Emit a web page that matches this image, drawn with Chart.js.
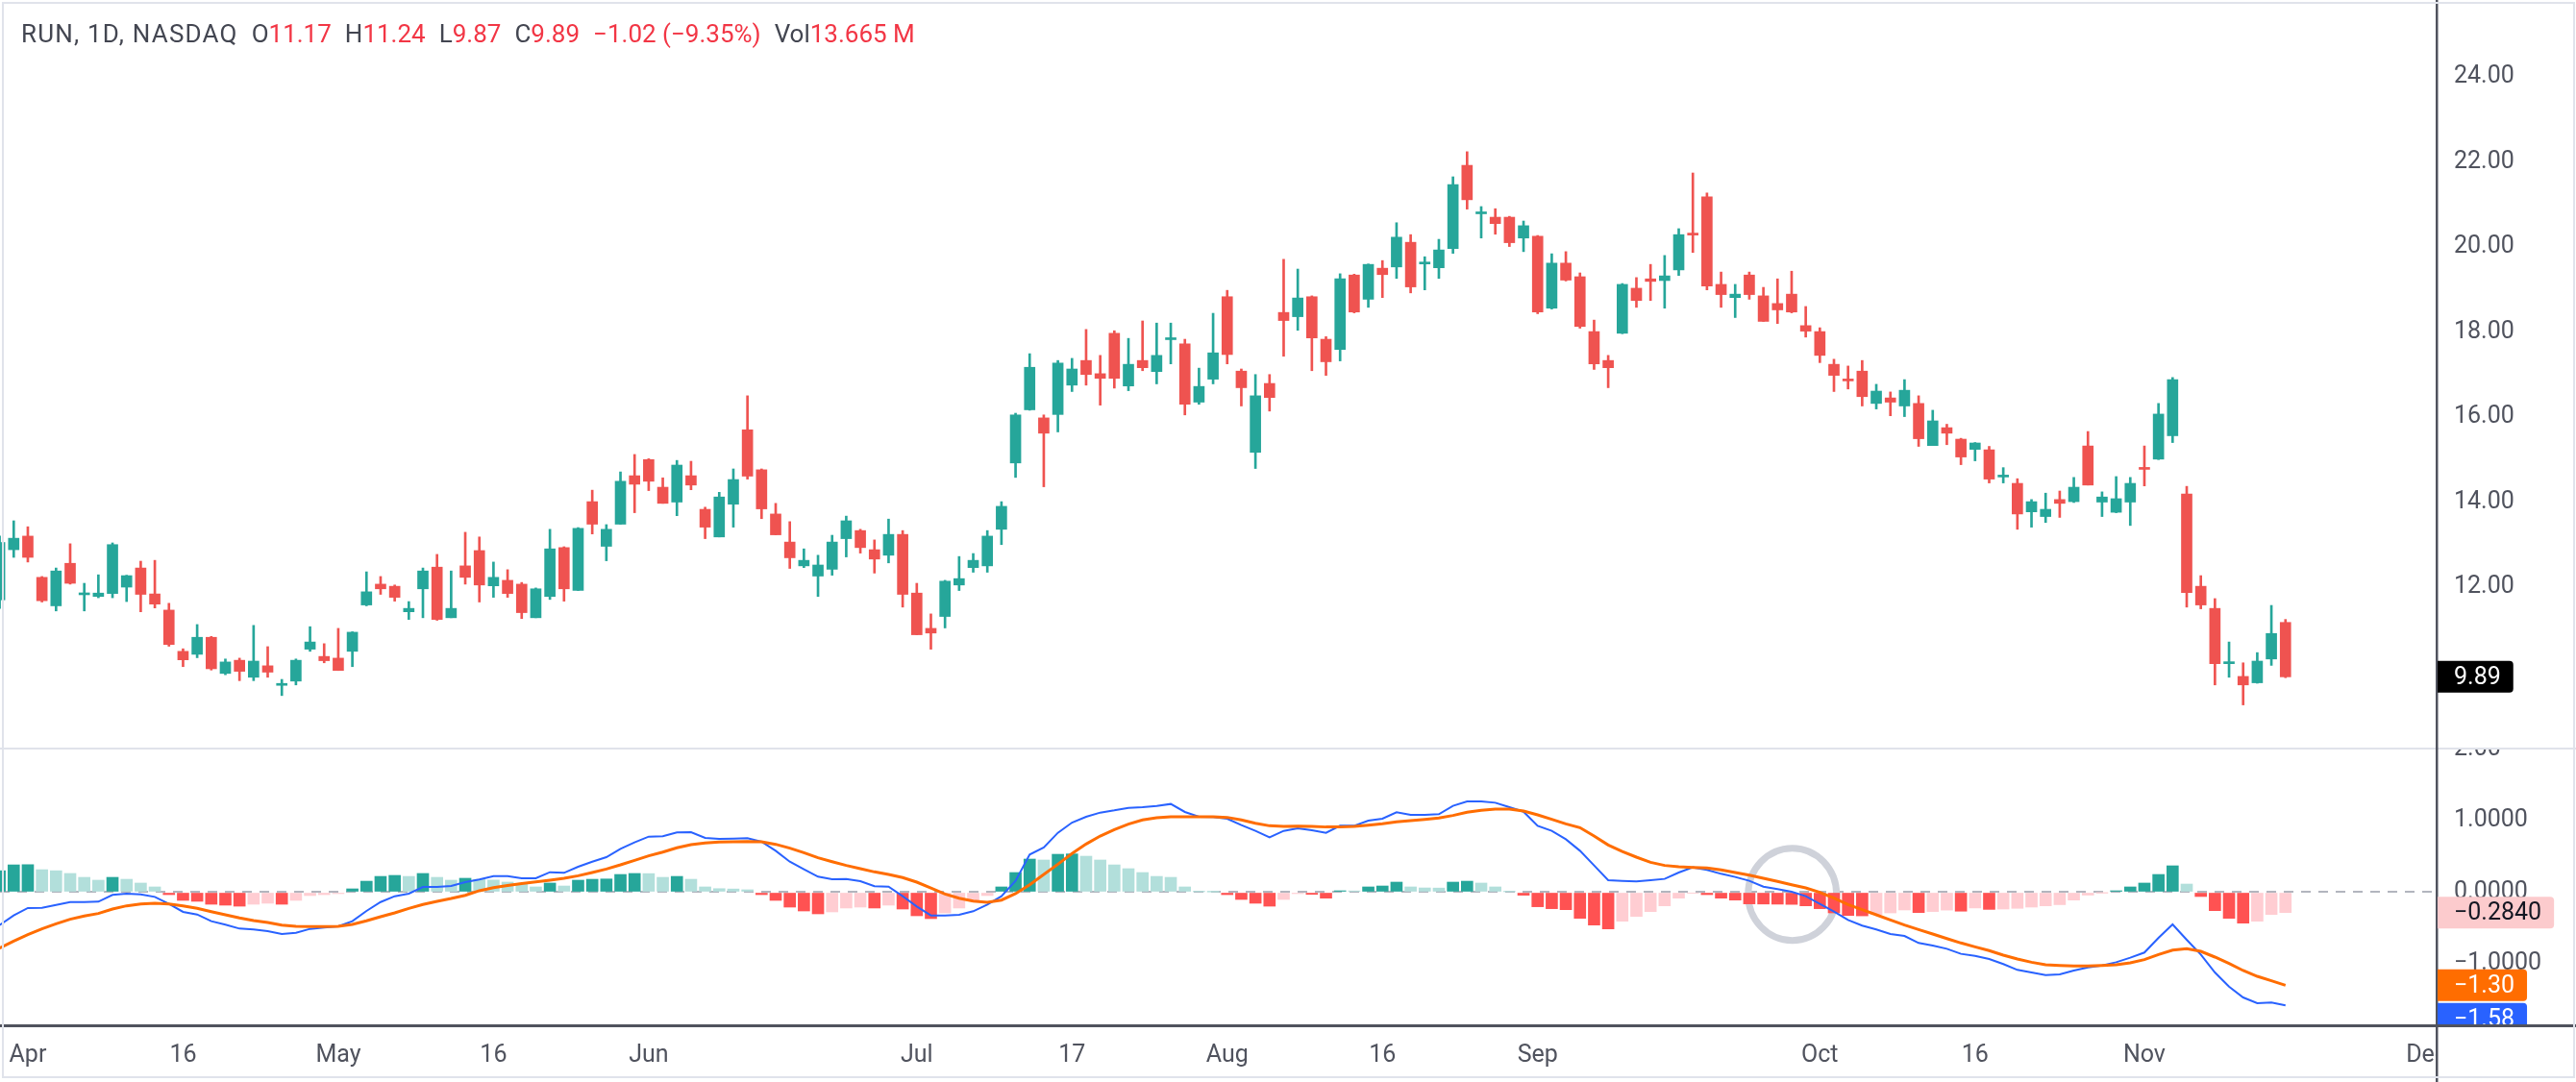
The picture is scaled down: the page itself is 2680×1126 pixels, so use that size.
<!DOCTYPE html>
<html>
<head>
<meta charset="utf-8">
<title>RUN, 1D, NASDAQ</title>
<script src="https://cdn.jsdelivr.net/npm/chart.js@4.4.1/dist/chart.umd.min.js"></script>
<style>
  html, body { margin: 0; padding: 0; background: #ffffff; }
  #wrap { position: relative; width: 2680px; height: 1126px; overflow: hidden; background: #ffffff; }
  canvas { position: absolute; left: 0; }
  #priceChart { top: 0; }
  #macdChart { top: 778px; }
  #frame { position: absolute; left: 2px; top: 2px; width: 2677px; height: 1120px; box-sizing: border-box; border: 2px solid #e0e3eb; pointer-events: none; }
  #header { position: absolute; left: 22px; top: 22px; display: flex; gap: 14px; font-family: Roboto, sans-serif; font-size: 26px; line-height: 26px; white-space: nowrap; color: #434651; }
  #header .red { color: #f23645; }
  #header .title { letter-spacing: 1.2px; }
</style>
</head>
<body>
<div id="wrap">
  <canvas id="priceChart" width="2680" height="778"></canvas>
  <canvas id="macdChart" width="2680" height="348"></canvas>
  <div id="header"></div>
  <div id="frame"></div>
</div>
<script>
// daily bars, 27 Mar 2024 .. 15 Nov 2024 (index 0 = 27 Mar)
const opens = [
  11.70, 12.88, 13.20, 12.23, 11.56, 12.56, 11.82, 11.78, 11.85, 12.00,
  12.45, 11.84, 11.46, 10.49, 10.42, 10.82, 9.97, 10.28, 9.88, 10.15,
  9.69, 9.79, 10.54, 10.37, 10.33, 10.49, 11.58, 12.07, 12.02, 11.42,
  11.96, 12.47, 11.28, 12.50, 12.86, 12.03, 12.16, 12.07, 11.28, 11.78,
  12.93, 11.92, 14.01, 12.96, 13.48, 14.62, 15.00, 14.35, 14.00, 14.62,
  13.83, 13.18, 13.95, 15.70, 14.76, 13.72, 13.06, 12.50, 12.26, 12.42,
  13.14, 13.33, 12.88, 12.75, 13.24, 11.86, 11.03, 11.31, 12.05, 12.46,
  12.50, 13.36, 14.92, 16.17, 15.98, 16.06, 16.75, 17.33, 17.02, 17.97,
  16.73, 17.33, 17.07, 17.82, 17.72, 16.35, 16.89, 18.83, 17.08, 15.17,
  16.79, 18.46, 18.36, 18.83, 17.83, 17.59, 19.34, 18.77, 19.50, 19.53,
  20.11, 19.60, 19.51, 19.96, 21.92, 20.78, 20.70, 20.70, 20.21, 20.25,
  18.56, 19.62, 19.30, 18.01, 17.33, 17.97, 19.03, 19.25, 19.21, 19.46,
  20.32, 21.18, 19.12, 18.81, 19.34, 18.85, 18.67, 18.89, 18.15, 18.01,
  17.24, 16.89, 17.08, 16.32, 16.45, 16.26, 16.32, 15.33, 15.75, 15.48,
  15.24, 15.23, 14.59, 14.44, 13.77, 13.66, 14.06, 14.01, 15.32, 14.00,
  13.76, 14.00, 14.81, 15.01, 15.56, 14.19, 12.02, 11.50, 10.20, 9.90,
  9.75, 10.31, 11.17
];
const highs = [
  13.20, 13.56, 13.42, 12.25, 12.45, 13.02, 12.09, 12.29, 13.04, 12.28,
  12.61, 12.63, 11.62, 10.55, 11.12, 10.84, 10.31, 10.33, 11.10, 10.60,
  9.83, 10.31, 11.07, 10.67, 11.03, 10.95, 12.36, 12.25, 12.05, 11.66,
  12.45, 12.77, 12.38, 13.29, 13.18, 12.59, 12.41, 12.11, 11.98, 13.36,
  12.95, 13.40, 14.28, 13.47, 14.71, 15.12, 15.02, 14.57, 14.98, 14.96,
  13.88, 14.23, 14.78, 16.50, 14.78, 13.97, 13.54, 12.90, 12.75, 13.22,
  13.67, 13.36, 13.11, 13.60, 13.33, 12.09, 11.37, 12.16, 12.72, 12.79,
  13.33, 14.01, 16.09, 17.49, 16.05, 17.33, 17.38, 18.06, 17.45, 18.03,
  17.85, 18.26, 18.21, 18.21, 17.83, 17.15, 18.44, 18.98, 17.13, 17.00,
  17.00, 19.71, 19.48, 18.85, 17.89, 19.37, 19.36, 19.60, 19.68, 20.57,
  20.29, 19.77, 20.18, 21.65, 22.24, 20.95, 20.90, 20.72, 20.61, 20.27,
  19.84, 19.89, 19.39, 18.28, 17.45, 19.14, 19.28, 19.59, 19.80, 20.43,
  21.74, 21.27, 19.41, 19.12, 19.41, 19.05, 19.25, 19.43, 18.60, 18.10,
  17.36, 17.20, 17.33, 16.77, 16.59, 16.88, 16.50, 16.16, 15.83, 15.50,
  15.40, 15.31, 14.81, 14.55, 14.06, 14.21, 14.26, 14.58, 15.66, 14.24,
  14.60, 14.58, 15.32, 16.32, 16.93, 14.37, 12.27, 11.73, 10.71, 10.22,
  10.46, 11.57, 11.24
];
const lows = [
  11.50, 12.70, 12.59, 11.65, 11.44, 12.07, 11.44, 11.75, 11.75, 11.66,
  11.42, 11.51, 10.61, 10.13, 10.34, 10.05, 9.94, 9.80, 9.80, 9.88,
  9.45, 9.70, 10.49, 10.22, 10.04, 10.13, 11.56, 11.83, 11.67, 11.24,
  11.28, 11.22, 11.28, 12.07, 11.65, 11.76, 11.76, 11.26, 11.28, 11.71,
  11.67, 11.92, 13.25, 12.62, 13.48, 13.75, 14.27, 13.97, 13.68, 14.29,
  13.14, 13.18, 13.41, 14.54, 13.61, 13.23, 12.44, 12.46, 11.78, 12.28,
  12.71, 12.80, 12.33, 12.57, 11.53, 10.88, 10.54, 11.04, 11.92, 12.35,
  12.35, 13.00, 14.58, 16.16, 14.36, 15.65, 16.60, 16.75, 16.28, 16.68,
  16.62, 17.09, 16.78, 17.25, 16.05, 16.30, 16.78, 17.25, 16.26, 14.79,
  16.14, 17.43, 18.04, 17.09, 16.98, 17.32, 18.45, 18.58, 18.81, 19.26,
  18.92, 18.99, 19.26, 19.85, 20.89, 20.21, 20.30, 20.01, 19.89, 18.43,
  18.54, 19.20, 18.09, 17.12, 16.69, 17.96, 18.58, 18.74, 18.56, 19.33,
  19.87, 18.99, 18.58, 18.34, 18.77, 18.25, 18.20, 18.45, 17.88, 17.28,
  16.60, 16.66, 16.26, 16.19, 16.03, 16.01, 15.31, 15.33, 15.35, 14.88,
  14.97, 14.45, 14.45, 13.36, 13.41, 13.52, 13.64, 13.99, 14.40, 13.66,
  13.75, 13.45, 14.38, 15.00, 15.40, 11.53, 11.49, 9.70, 9.88, 9.23,
  9.74, 10.16, 9.87
];
const closes = [
  13.05, 13.15, 12.70, 11.68, 12.38, 12.09, 11.85, 11.86, 13.00, 12.27,
  11.83, 11.60, 10.65, 10.29, 10.82, 10.08, 10.24, 10.02, 10.26, 10.00,
  9.71, 10.28, 10.71, 10.27, 10.04, 10.94, 11.89, 11.96, 11.76, 11.50,
  12.38, 11.24, 11.50, 12.23, 12.05, 12.23, 11.85, 11.40, 11.96, 12.90,
  11.96, 13.38, 13.48, 13.36, 14.49, 14.42, 14.49, 13.97, 14.87, 14.40,
  13.41, 14.12, 14.53, 14.61, 13.84, 13.23, 12.69, 12.63, 12.52, 13.06,
  13.56, 12.93, 12.66, 13.24, 11.83, 10.88, 10.92, 12.14, 12.20, 12.63,
  13.20, 13.90, 16.05, 17.17, 15.62, 17.27, 17.13, 17.00, 16.91, 16.91,
  17.24, 17.16, 17.45, 17.86, 16.30, 16.72, 17.51, 17.47, 16.69, 16.50,
  16.46, 18.27, 18.80, 17.86, 17.30, 19.25, 18.47, 19.59, 19.35, 20.23,
  19.06, 19.64, 19.93, 21.47, 21.11, 20.82, 20.55, 20.10, 20.50, 18.47,
  19.62, 19.22, 18.13, 17.25, 17.16, 19.12, 18.74, 19.19, 19.32, 20.29,
  20.28, 19.08, 18.88, 18.89, 18.88, 18.25, 18.52, 18.47, 18.02, 17.45,
  16.98, 16.85, 16.48, 16.61, 16.35, 16.63, 15.49, 15.91, 15.62, 15.06,
  15.39, 14.54, 14.63, 13.72, 14.01, 13.83, 13.97, 14.35, 14.40, 14.12,
  14.08, 14.44, 14.77, 16.07, 16.88, 11.87, 11.58, 10.20, 10.24, 9.70,
  10.26, 10.91, 9.89
];

// MACD (12, 26, 9)
const macdLine = [
  -0.459, -0.324, -0.221, -0.217, -0.177, -0.137, -0.137, -0.132, -0.038, -0.020,
  -0.029, -0.065, -0.163, -0.275, -0.311, -0.405, -0.454, -0.508, -0.521, -0.544,
  -0.584, -0.566, -0.512, -0.494, -0.476, -0.405, -0.262, -0.137, -0.056, -0.020,
  0.074, 0.074, 0.087, 0.141, 0.177, 0.226, 0.226, 0.195, 0.195, 0.280,
  0.271, 0.356, 0.427, 0.490, 0.606, 0.696, 0.776, 0.781, 0.834, 0.839,
  0.758, 0.745, 0.749, 0.754, 0.705, 0.579, 0.427, 0.320, 0.217, 0.181,
  0.186, 0.154, 0.083, 0.078, -0.056, -0.199, -0.324, -0.324, -0.315, -0.266,
  -0.172, -0.056, 0.159, 0.526, 0.624, 0.830, 0.973, 1.054, 1.112, 1.143,
  1.179, 1.188, 1.206, 1.233, 1.121, 1.054, 1.049, 1.027, 0.937, 0.857,
  0.767, 0.857, 0.893, 0.866, 0.830, 0.928, 0.928, 1.000, 1.027, 1.116,
  1.081, 1.081, 1.090, 1.206, 1.268, 1.268, 1.250, 1.188, 1.125, 0.928,
  0.857, 0.740, 0.579, 0.374, 0.168, 0.159, 0.150, 0.168, 0.186, 0.275,
  0.347, 0.311, 0.257, 0.213, 0.159, 0.078, 0.043, 0.007, -0.056, -0.163,
  -0.271, -0.387, -0.467, -0.521, -0.584, -0.611, -0.709, -0.745, -0.790, -0.861,
  -0.888, -0.933, -1.004, -1.085, -1.121, -1.157, -1.148, -1.094, -1.049, -1.022,
  -0.978, -0.915, -0.843, -0.638, -0.450, -0.664, -0.870, -1.121, -1.318, -1.470,
  -1.550, -1.541, -1.580
];
const signalLine = [
  -0.781, -0.682, -0.593, -0.512, -0.441, -0.378, -0.333, -0.297, -0.235, -0.190,
  -0.163, -0.154, -0.163, -0.190, -0.226, -0.271, -0.315, -0.360, -0.396, -0.423,
  -0.459, -0.476, -0.481, -0.481, -0.476, -0.450, -0.400, -0.342, -0.289, -0.226,
  -0.172, -0.128, -0.088, -0.043, 0.021, 0.063, 0.094, 0.121, 0.143, 0.168,
  0.195, 0.230, 0.275, 0.324, 0.382, 0.445, 0.508, 0.561, 0.620, 0.664,
  0.687, 0.700, 0.705, 0.709, 0.705, 0.669, 0.615, 0.553, 0.481, 0.427,
  0.374, 0.329, 0.284, 0.248, 0.204, 0.141, 0.060, -0.025, -0.083, -0.123,
  -0.141, -0.110, -0.020, 0.105, 0.248, 0.391, 0.539, 0.673, 0.785, 0.875,
  0.951, 1.009, 1.040, 1.054, 1.054, 1.054, 1.054, 1.045, 1.009, 0.964,
  0.928, 0.920, 0.924, 0.920, 0.911, 0.911, 0.920, 0.937, 0.955, 0.982,
  1.000, 1.018, 1.036, 1.072, 1.116, 1.143, 1.161, 1.161, 1.134, 1.081,
  1.018, 0.955, 0.902, 0.785, 0.660, 0.570, 0.490, 0.418, 0.374, 0.356,
  0.347, 0.338, 0.311, 0.275, 0.239, 0.195, 0.150, 0.105, 0.060, -0.002,
  -0.083, -0.172, -0.244, -0.315, -0.387, -0.459, -0.521, -0.584, -0.647, -0.709,
  -0.763, -0.816, -0.879, -0.933, -0.978, -1.013, -1.022, -1.031, -1.031, -1.022,
  -1.013, -0.987, -0.942, -0.870, -0.808, -0.790, -0.826, -0.906, -0.996, -1.094,
  -1.175, -1.237, -1.300
];
const histogram = [
  0.300, 0.382, 0.385, 0.315, 0.300, 0.262, 0.208, 0.168, 0.208, 0.181,
  0.128, 0.074, -0.034, -0.114, -0.127, -0.168, -0.181, -0.195, -0.168, -0.154,
  -0.168, -0.114, -0.047, -0.034, -0.020, 0.047, 0.154, 0.221, 0.235, 0.221,
  0.262, 0.208, 0.168, 0.195, 0.180, 0.170, 0.141, 0.114, 0.074, 0.128,
  0.087, 0.168, 0.181, 0.185, 0.248, 0.262, 0.260, 0.208, 0.221, 0.181,
  0.074, 0.050, 0.045, 0.034, -0.034, -0.114, -0.208, -0.262, -0.302, -0.275,
  -0.221, -0.208, -0.221, -0.181, -0.235, -0.329, -0.369, -0.289, -0.221, -0.114,
  -0.047, 0.074, 0.275, 0.463, 0.450, 0.530, 0.535, 0.503, 0.450, 0.382,
  0.329, 0.275, 0.221, 0.208, 0.074, 0.007, 0.003, -0.034, -0.101, -0.154,
  -0.195, -0.101, -0.020, -0.030, -0.083, 0.020, 0.018, 0.074, 0.087, 0.141,
  0.074, 0.060, 0.058, 0.141, 0.154, 0.128, 0.074, 0.007, -0.042, -0.203,
  -0.230, -0.244, -0.365, -0.459, -0.512, -0.405, -0.338, -0.271, -0.190, -0.083,
  -0.010, -0.034, -0.083, -0.110, -0.163, -0.165, -0.167, -0.170, -0.190, -0.230,
  -0.289, -0.325, -0.330, -0.311, -0.289, -0.248, -0.284, -0.270, -0.250, -0.265,
  -0.220, -0.240, -0.235, -0.225, -0.208, -0.190, -0.174, -0.110, -0.040, -0.005,
  0.020, 0.074, 0.128, 0.248, 0.369, 0.114, -0.060, -0.257, -0.365, -0.432,
  -0.405, -0.311, -0.284
];

// time axis labels (bar index -> text)
const xTickIdx = [2, 13, 24, 35, 46, 65, 76, 87, 98, 109, 129, 140, 152, 172];
const xTickText = ['Apr', '16', 'May', '16', 'Jun', 'Jul', '17', 'Aug', '16', 'Sep', 'Oct', '16', 'Nov', 'Dec'];
const priceTicks = [12, 14, 16, 18, 20, 22, 24];
const macdTicks = [2, 1, 0, -1];
const macdTickText = ['2.00', '1.0000', '0.0000', '\u22121.0000'];

[opens, highs, lows, macdLine, signalLine, histogram].forEach((arr, k) => {
  if (arr.length !== closes.length) throw new Error('length mismatch in array ' + k + ': ' + arr.length);
});

const UP = '#26a69a';
const DOWN = '#ef5350';
const AXIS = '#50535e';
const FONT = { family: 'Roboto, sans-serif', size: 25 };
const AXIS_W = 146;
const X_MIN = 0.0272;
const X_MAX = 172.643;

const minus = n => (n < 0 ? '\u2212' : '') + Math.abs(n).toFixed(2);

// header line
const last = closes.length - 1;
const change = closes[last] - closes[last - 1];
const pct = change / closes[last - 1] * 100;
const headerGroups = [
  [['RUN, 1D, NASDAQ', 'title']],
  [['O', ''], [minus(opens[last]), 'red']],
  [['H', ''], [minus(highs[last]), 'red']],
  [['L', ''], [minus(lows[last]), 'red']],
  [['C', ''], [minus(closes[last]), 'red']],
  [[minus(change) + ' (' + minus(pct) + '%)', 'red']],
  [['Vol', ''], ['13.665\u00a0M', 'red']]
];
const header = document.getElementById('header');
headerGroups.forEach(group => {
  const g = document.createElement('span');
  group.forEach(([text, cls]) => {
    const s = document.createElement('span');
    if (cls) s.className = cls;
    s.textContent = text;
    g.appendChild(s);
  });
  header.appendChild(g);
});

const candleColors = closes.map((c, i) => (c >= opens[i] ? UP : DOWN));
const bodies = closes.map((c, i) => ({ x: i, y: [opens[i], c] }));
const wicks = closes.map((c, i) => ({ x: i, y: [lows[i], highs[i]] }));

const histColors = histogram.map((h, i) => {
  const prev = i > 0 ? histogram[i - 1] : h;
  if (h >= 0) return h >= prev ? '#26a69a' : '#b2dfdb';
  return h < prev ? '#ff5252' : '#ffcdd2';
});

function badge(ctx, area, y, text, bg, fg) {
  ctx.font = '25px Roboto, sans-serif';
  const tx = area.right + 19;
  const w = ctx.measureText(text).width;
  const x0 = area.right + 2;
  const x1 = tx + w + 13;
  ctx.fillStyle = bg;
  ctx.beginPath();
  ctx.roundRect(x0, y - 16.5, x1 - x0, 33, [0, 4, 4, 0]);
  ctx.fill();
  ctx.fillStyle = fg;
  ctx.textBaseline = 'middle';
  ctx.textAlign = 'left';
  ctx.fillText(text, tx, y + 1);
}

const pricePane = {
  id: 'pricePane',
  afterDraw(chart) {
    const { ctx, chartArea } = chart;
    const y = chart.scales.y.getPixelForValue(closes[last]);
    ctx.save();
    ctx.fillStyle = AXIS;
    ctx.fillRect(chartArea.right, 0, 2.5, chart.height);
    badge(ctx, chartArea, y, closes[last].toFixed(2), '#000000', '#ffffff');
    ctx.restore();
  }
};

const macdPane = {
  id: 'macdPane',
  beforeDatasetsDraw(chart) {
    const { ctx } = chart;
    const cx = chart.scales.x.getPixelForValue(127.05);
    const cy = chart.scales.y.getPixelForValue(-0.03);
    ctx.save();
    ctx.strokeStyle = '#cfd2da';
    ctx.lineWidth = 7;
    ctx.beginPath();
    ctx.ellipse(cx, cy, 46, 48, 0, 0, Math.PI * 2);
    ctx.stroke();
    ctx.restore();
  },
  afterDraw(chart) {
    const { ctx, chartArea } = chart;
    const ys = chart.scales.y;
    ctx.save();
    // hide the part of the last time label that runs under the price scale
    ctx.fillStyle = '#ffffff';
    ctx.fillRect(chartArea.right + 2, chartArea.bottom + 3, chart.width - chartArea.right, chart.height - chartArea.bottom);
    ctx.fillStyle = '#e0e3eb';
    ctx.fillRect(0, 0, chart.width, 2);
    ctx.fillStyle = AXIS;
    ctx.fillRect(chartArea.right, 0, 2.5, chart.height);
    ctx.fillRect(0, chartArea.bottom - 1, chart.width, 3);
    ctx.beginPath();
    ctx.rect(0, 0, chart.width, chartArea.bottom - 1);
    ctx.clip();
    const yh = ys.getPixelForValue(histogram[last]);
    const yS = ys.getPixelForValue(signalLine[last]);
    let yM = ys.getPixelForValue(macdLine[last]);
    if (yM < yS + 35) yM = yS + 35;
    badge(ctx, chartArea, yh, '\u2212' + Math.abs(histogram[last]).toFixed(4), '#fccbcd', '#131722');
    badge(ctx, chartArea, yS, minus(signalLine[last]), '#ff6d00', '#ffffff');
    badge(ctx, chartArea, yM, minus(macdLine[last]), '#2962ff', '#ffffff');
    ctx.restore();
  }
};

const noChrome = { legend: { display: false }, tooltip: { enabled: false } };

new Chart(document.getElementById('priceChart'), {
  type: 'bar',
  data: {
    datasets: [
      { label: 'body', data: bodies, backgroundColor: candleColors, barThickness: 11, minBarLength: 2, grouped: false, order: 0 },
      { label: 'wick', data: wicks, backgroundColor: candleColors, barThickness: 2, grouped: false, order: 1 }
    ]
  },
  options: {
    responsive: false,
    animation: false,
    devicePixelRatio: 1,
    layout: { padding: 0 },
    plugins: noChrome,
    scales: {
      x: { type: 'linear', display: false, min: X_MIN, max: X_MAX, offset: false },
      y: {
        position: 'right',
        min: 8.226,
        max: 25.808,
        grid: { display: false, drawTicks: false },
        border: { display: false },
        afterBuildTicks: s => { s.ticks = priceTicks.map(v => ({ value: v })); },
        ticks: { padding: 19, color: AXIS, font: FONT, callback: v => v.toFixed(2) },
        afterFit: s => { s.width = AXIS_W; s.paddingTop = 0; s.paddingBottom = 0; }
      }
    }
  },
  plugins: [pricePane]
});

new Chart(document.getElementById('macdChart'), {
  type: 'bar',
  data: {
    datasets: [
      { type: 'line', label: 'Signal', data: signalLine.map((v, i) => ({ x: i, y: v })), borderColor: '#ff6d00', borderWidth: 3, pointRadius: 0, order: 0 },
      { type: 'line', label: 'MACD', data: macdLine.map((v, i) => ({ x: i, y: v })), borderColor: '#2962ff', borderWidth: 2, pointRadius: 0, order: 1 },
      { label: 'Histogram', data: histogram.map((v, i) => ({ x: i, y: v })), backgroundColor: histColors, barThickness: 12, grouped: false, order: 2 }
    ]
  },
  options: {
    responsive: false,
    animation: false,
    devicePixelRatio: 1,
    layout: { padding: 0 },
    plugins: noChrome,
    scales: {
      x: {
        type: 'linear',
        min: X_MIN,
        max: X_MAX,
        offset: false,
        grid: { display: false, drawTicks: false },
        border: { display: false },
        afterBuildTicks: s => { s.ticks = xTickIdx.map(v => ({ value: v })); },
        ticks: { autoSkip: false, maxRotation: 0, padding: 17, color: AXIS, font: FONT, callback: (v, i) => xTickText[i] },
        afterFit: s => { s.height = 59; s.paddingLeft = 0; s.paddingRight = 0; }
      },
      y: {
        position: 'right',
        min: -1.859,
        max: 2.02,
        grid: {
          drawTicks: false,
          lineWidth: 2,
          color: c => (c.tick && c.tick.value === 0 ? '#b2b5be' : 'rgba(0,0,0,0)')
        },
        border: { display: false, dash: [10, 8] },
        afterBuildTicks: s => { s.ticks = macdTicks.map(v => ({ value: v })); },
        ticks: { padding: 19, color: AXIS, font: FONT, callback: (v, i) => macdTickText[i] },
        afterFit: s => { s.width = AXIS_W; s.paddingTop = 0; s.paddingBottom = 0; }
      }
    }
  },
  plugins: [macdPane]
});
</script>
</body>
</html>
